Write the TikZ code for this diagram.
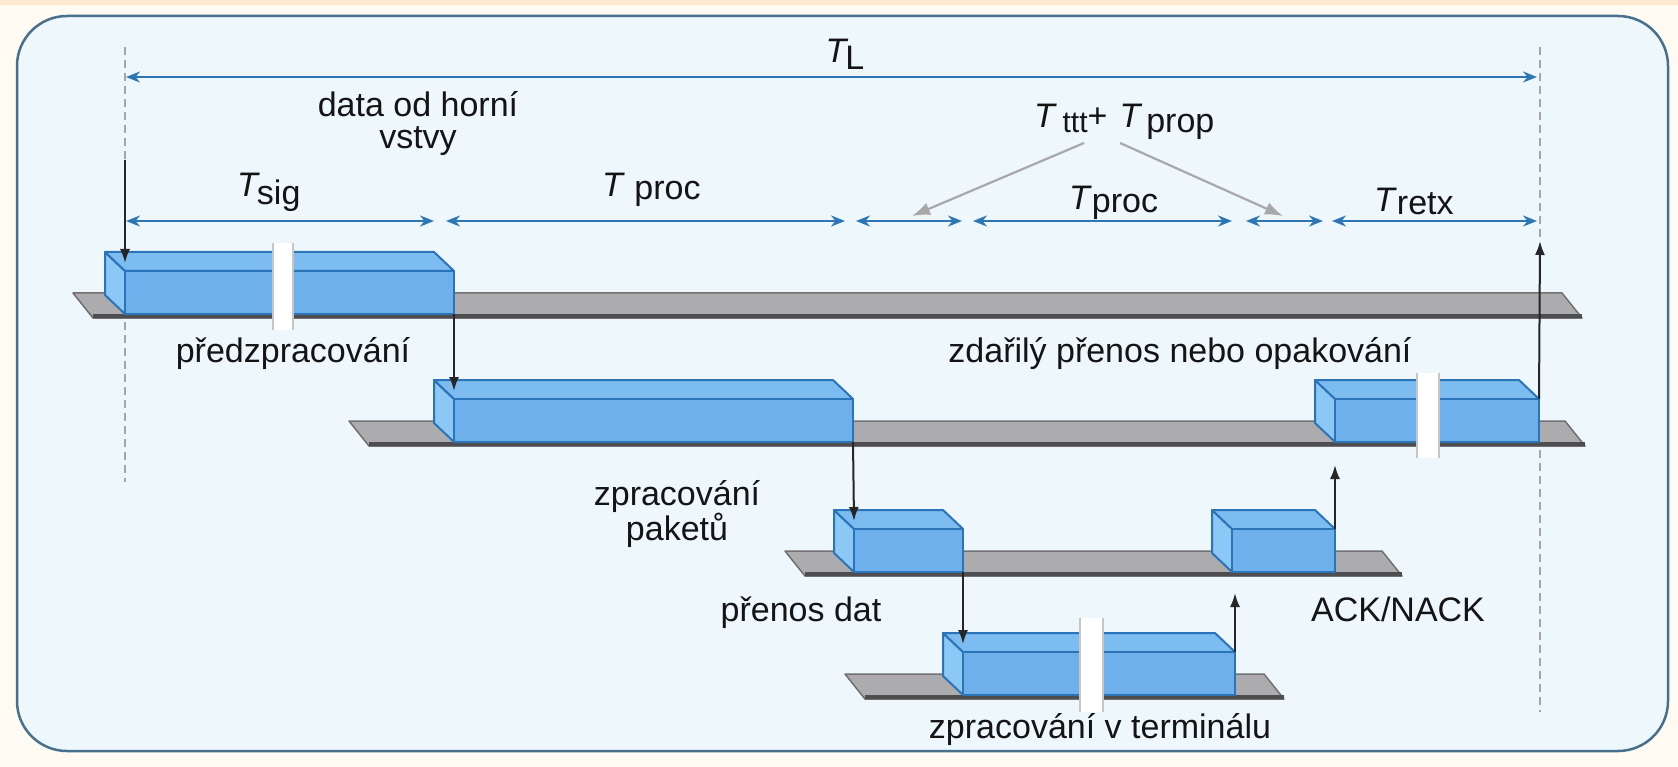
\documentclass[tikz,border=0pt]{standalone}
\usepackage{fontspec}
\setmainfont{Liberation Sans}
\usetikzlibrary{arrows.meta}

\definecolor{panelbg}{RGB}{237,247,252}
\definecolor{panelline}{RGB}{72,112,140}
\definecolor{cream}{RGB}{255,251,243}
\definecolor{peach}{RGB}{251,233,208}
\definecolor{dimblue}{RGB}{46,117,182}
\definecolor{boxfront}{RGB}{110,176,236}
\definecolor{boxtop}{RGB}{124,188,240}
\definecolor{boxside}{RGB}{140,200,245}
\definecolor{boxedge}{RGB}{44,116,184}
\definecolor{slabtop}{RGB}{172,172,175}
\definecolor{slabedge}{RGB}{78,78,80}
\definecolor{pointer}{RGB}{168,168,168}

\tikzset{
  lbl/.style={inner sep=0pt, font=\fontsize{34}{32}\selectfont, text=black!92},
  dim/.style={draw=dimblue, line width=2pt,
    {Stealth[length=14pt,width=11pt]}-{Stealth[length=14pt,width=11pt]}},
  guide/.style={draw=gray!70, line width=1.2pt, dash pattern=on 8pt off 5pt},
  conn/.style={draw=black!85, line width=2pt, -{Latex[length=14pt,width=10pt]}},
  hint/.style={draw=pointer, line width=2.2pt, -{Latex[length=18pt,width=13pt]}},
  blockfront/.style={fill=boxfront, draw=boxedge, line width=2pt, line join=round},
  blocktop/.style={fill=boxtop, draw=boxedge, line width=2pt, line join=round},
  blockside/.style={fill=boxside, draw=boxedge, line width=2pt, line join=round},
  gapline/.style={draw=gray!45, line width=1.5pt}
}

% gray platform: front left x, front right x, front bottom y
\newcommand{\tslab}[3]{%
  \filldraw[fill=slabtop, draw=slabedge!80, line width=1.5pt, line join=round]
    (#1,#3) -- (#2,#3) -- ({#2-20},{#3-25}) -- ({#1-20},{#3-25}) -- cycle;
  \fill[slabedge] (#1,#3-4) rectangle (#2,#3);
}
% blue block: name, front left x, front right x, front bottom y
\newcommand{\pblock}[4]{%
  \filldraw[blockside] (#2,#4-43) -- ({#2-20},{#4-62}) -- ({#2-20},{#4-19}) -- (#2,#4) -- cycle;
  \filldraw[blocktop] (#2,#4-43) -- (#3,#4-43) -- ({#3-20},{#4-62}) -- ({#2-20},{#4-62}) -- cycle;
  \filldraw[blockfront] (#2,#4-43) rectangle (#3,#4);
  \coordinate (#1-tl) at (#2,#4-43);
  \coordinate (#1-tr) at (#3,#4-43);
  \coordinate (#1-bl) at (#2,#4);
  \coordinate (#1-br) at (#3,#4);
}
% break in a long block
\newcommand{\gapmark}[4]{%
  \fill[white] (#1,#3) rectangle (#2,#4);
  \draw[gapline] (#1,#3) -- (#1,#4) (#2,#3) -- (#2,#4);
}

\begin{document}
\begin{tikzpicture}[x=1pt, y=-1pt]
  \useasboundingbox (0,0) rectangle (1678,767);
  \fill[cream] (0,0) rectangle (1678,767);
  \fill[peach] (0,0) rectangle (1678,5);
  \filldraw[fill=panelbg, draw=panelline, line width=2.5pt, rounded corners=50pt]
    (17,16) rectangle (1668,751);

  % time marks
  \coordinate (gl-top) at (125,47);
  \coordinate (gl-arr) at (125,160);
  \coordinate (gr-top) at (1540,47);
  \coordinate (gr-arr) at (1540,241);
  \draw[guide] (gl-top) -- (gl-arr);
  \draw[guide] (125,322) -- (125,482);
  \draw[guide] (gr-top) -- (gr-arr);
  \draw[guide] (1540,450) -- (1540,712);

  % overall latency and its parts
  \coordinate (tl-a) at (126,77);
  \coordinate (tl-b) at (1537,77);
  \draw[dim] (tl-a) -- (tl-b);
  \coordinate (d0) at (126,221);
  \coordinate (d1) at (434,221);
  \coordinate (d2) at (446,221);
  \coordinate (d3) at (845,221);
  \coordinate (d4) at (856,221);
  \coordinate (d5) at (962,221);
  \coordinate (d6) at (973,221);
  \coordinate (d7) at (1232,221);
  \coordinate (d8) at (1246,221);
  \coordinate (d9) at (1323,221);
  \coordinate (d10) at (1332,221);
  \coordinate (d11) at (1537,221);
  \draw[dim] (d0) -- (d1);
  \draw[dim] (d2) -- (d3);
  \draw[dim] (d4) -- (d5);
  \draw[dim] (d6) -- (d7);
  \draw[dim] (d8) -- (d9);
  \draw[dim] (d10) -- (d11);

  \coordinate (h1) at (1084,143);
  \coordinate (h2) at (1120,143);
  \coordinate (h1-end) at (912,216);
  \coordinate (h2-end) at (1283,216);
  \draw[hint] (h1) -- (h1-end);
  \draw[hint] (h2) -- (h2-end);

  % platforms and blocks
  \tslab{93}{1582}{318}
  \pblock{pre}{125}{454}{314}
  \gapmark{273}{293}{243}{330}

  \tslab{369}{1585}{446}
  \pblock{pkt}{454}{853}{442}
  \pblock{retx}{1335}{1539}{442}
  \gapmark{1417}{1439}{373}{458}

  \tslab{805}{1402}{576}
  \pblock{tx}{854}{963}{572}
  \pblock{ack}{1232}{1335}{572}

  \tslab{865}{1284}{699}
  \pblock{term}{963}{1235}{695}
  \gapmark{1080}{1103}{618}{712}

  % flow between stages
  \coordinate (up-term) at (1235,593);
  \coordinate (up-ack) at (1335,465);
  \draw[conn] (gl-arr) -- ([yshift=8pt]pre-tl);
  \draw[conn] (pre-br) -- ([yshift=8pt]pkt-tl);
  \draw[conn] (pkt-br) -- ([yshift=8pt]tx-tl);
  \draw[conn] (tx-br) -- ([yshift=8pt]term-tl);
  \draw[conn] (term-tr) -- (up-term);
  \draw[conn] (ack-tr) -- (up-ack);
  \draw[conn] (retx-tr) -- (gr-arr);

  % labels
  \node[lbl, anchor=base] (lblTL) at (845,63) {\textit{T}\kern-3pt\raisebox{-7pt}{L}};
  \node[lbl, anchor=north, align=center] (lblUpper) at (418,91) {data od horní\\vstvy};
  \node[lbl, anchor=base west] (lblTsig) at (237,197) {\textit{T}\kern-3pt\raisebox{-8pt}{sig}};
  \node[lbl, anchor=base west] (lblTproc) at (602,197) {\textit{T} \raisebox{-3pt}{proc}};
  \node[lbl, anchor=base west] (lblTtt) at (1034,128)
    {\textit{T}\,\raisebox{-5pt}{\fontsize{30}{30}\selectfont ttt}+\kern12pt\textit{T}\kern4pt\raisebox{-5pt}{prop}};
  \node[lbl, anchor=base west] (lblTproc2) at (1069,210) {\textit{T}\raisebox{-3pt}{proc}};
  \node[lbl, anchor=base west] (lblTretx) at (1374,212) {\textit{T}\raisebox{-3pt}{retx}};
  \node[lbl, anchor=base] (lblPre) at (293,362) {předzpracování};
  \node[lbl, anchor=base] (lblRetx) at (1180,362) {zdařilý přenos nebo opakování};
  \node[lbl, anchor=north, align=center] (lblPkt) at (677,480) {zpracování\\paketů};
  \node[lbl, anchor=base] (lblData) at (801,621) {přenos dat};
  \node[lbl, anchor=base] (lblAck) at (1398,621) {ACK/NACK};
  \node[lbl, anchor=base] (lblTerm) at (1100,738) {zpracování v terminálu};
\end{tikzpicture}
\end{document}
